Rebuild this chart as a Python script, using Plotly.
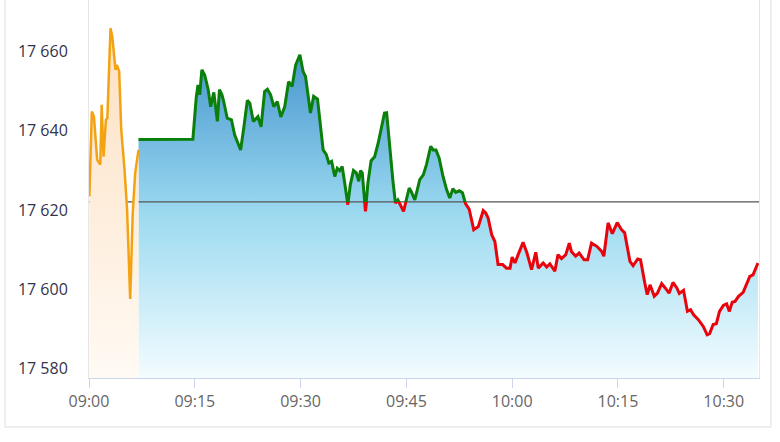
import plotly.graph_objects as go

# minutes after 09:00 and index level
pre_t = [0.05, 0.4, 0.7, 1.16, 1.6, 1.8, 2.06, 2.4, 2.6, 3.05, 3.3, 3.76, 3.95,
         4.28, 4.57, 5.04, 5.4, 5.84, 6.2, 6.55, 7.02]
pre_v = [17623.5, 17644.9, 17643.6, 17632.7, 17631.5, 17646.6, 17633.5, 17642.8,
         17643.2, 17665.9, 17663.8, 17655.4, 17656.6, 17655.0, 17640.3, 17630.2,
         17620.1, 17597.6, 17619.3, 17629.4, 17635.2]

main_t = [7.02, 14.73, 15.2, 15.45, 15.7, 16.0, 16.4, 16.9, 17.25, 17.7, 18.2, 18.5,
          18.85, 19.1, 19.6, 20.2, 20.65, 21.1, 21.5, 21.97, 22.45, 22.8, 23.3, 23.95,
          24.4, 24.9, 25.3, 25.75, 26.2, 26.7, 27.2, 27.75, 28.3, 28.8, 29.3, 29.9,
          30.35, 30.7, 31.4, 31.85, 32.4, 33.2, 33.65, 34.0, 34.4, 34.85, 35.2, 35.55,
          35.9, 36.25, 36.7, 37.05, 37.5, 37.9, 38.25, 38.5, 38.75, 39.2, 39.55, 40.0,
          40.5, 41.0, 41.45, 41.9, 42.2, 42.65, 43.1, 43.45, 43.8, 44.15, 44.6, 45.4,
          45.7, 46.2, 46.9, 47.4, 47.85, 48.45, 48.8, 49.2, 49.65, 50.2, 50.7, 51.15,
          51.6, 52.0, 52.5, 52.95, 53.4, 53.9, 54.55, 55.2, 55.9, 56.25, 56.6, 57.1,
          57.55, 58.0, 58.65, 59.2, 59.7, 60.0, 60.4, 60.85, 61.55, 62.1, 62.75, 63.35,
          63.7, 64.4, 64.9, 65.35, 66.05, 66.5, 67.0, 67.6, 68.1, 68.4, 69.0, 69.5,
          70.2, 70.7, 71.25, 72.0, 72.7, 73.0, 73.6, 74.2, 74.9, 75.5, 75.95, 76.7,
          77.15, 77.8, 78.2, 78.8, 79.15, 79.55, 80.15, 80.6, 81.2, 81.7, 82.25, 82.8,
          83.35, 83.7, 84.3, 84.85, 85.3, 85.7, 86.4, 87.1, 87.65, 88.0, 88.5, 88.95,
          89.4, 89.95, 90.4, 90.8, 91.2, 91.6, 92.1, 92.75, 93.2, 93.7, 94.15, 94.85]
main_v = [17637.8, 17637.9, 17648.3, 17651.6, 17649.1, 17655.4, 17654.1, 17650.4,
          17646.1, 17649.7, 17642.4, 17650.4, 17649.1, 17647.4, 17643.2, 17642.8,
          17639.0, 17636.9, 17635.2, 17641.1, 17647.7, 17647.0, 17642.4, 17643.6,
          17641.0, 17649.9, 17650.5, 17649.1, 17646.1, 17647.4, 17643.5, 17646.1,
          17652.4, 17651.2, 17656.6, 17659.2, 17655.0, 17653.7, 17644.5, 17648.7,
          17648.0, 17635.2, 17634.0, 17631.9, 17632.3, 17628.5, 17630.6, 17630.0,
          17631.0, 17626.9, 17621.4, 17626.4, 17630.0, 17629.4, 17627.3, 17630.0,
          17629.4, 17619.7, 17626.9, 17632.5, 17633.5, 17636.9, 17640.7, 17644.5,
          17644.6, 17635.2, 17627.3, 17621.8, 17622.6, 17621.4, 17619.7, 17625.6,
          17624.7, 17622.6, 17627.7, 17628.9, 17631.5, 17636.1, 17635.2, 17635.2,
          17633.1, 17628.5, 17625.2, 17623.1, 17625.4, 17624.5, 17624.9, 17624.4,
          17621.6, 17620.3, 17615.1, 17615.9, 17619.9, 17619.3, 17618.0, 17613.8,
          17612.1, 17606.3, 17606.3, 17605.4, 17605.4, 17608.2, 17606.7, 17608.8,
          17611.9, 17609.2, 17605.0, 17609.4, 17605.4, 17606.7, 17605.7, 17606.5,
          17604.6, 17608.8, 17607.8, 17608.8, 17611.7, 17609.6, 17608.4, 17609.2,
          17607.5, 17607.5, 17611.7, 17610.9, 17609.6, 17608.4, 17616.8, 17614.1,
          17616.9, 17615.1, 17614.3, 17607.1, 17606.0, 17607.7, 17607.5, 17601.7,
          17598.7, 17601.2, 17598.3, 17599.1, 17601.5, 17600.4, 17599.1, 17601.8,
          17600.4, 17599.0, 17599.8, 17594.5, 17594.9, 17593.7, 17592.4, 17590.7,
          17588.6, 17588.9, 17591.2, 17591.4, 17594.5, 17596.0, 17596.4, 17594.5,
          17596.8, 17597.0, 17598.3, 17599.3, 17601.2, 17603.3, 17603.7, 17606.7]

prev_close = 17622.1

tick_vals = [0, 15, 30, 45, 60, 75, 90]
tick_text = ["09:00", "09:15", "09:30", "09:45", "10:00", "10:15", "10:30"]
y_ticks = [17580, 17600, 17620, 17640, 17660]

x_range = [0, 95.0]
y_lo, y_hi = 17577.7, 17673.0
split = (prev_close - y_lo) / (y_hi - y_lo)

fig = go.Figure()

# session area (fill only)
fig.add_trace(go.Scatter(
    x=main_t, y=main_v, mode="lines", line=dict(width=0),
    fill="tozeroy",
    fillgradient=dict(type="vertical", start=y_lo, stop=17660,
                      colorscale=[[0, "#f3fcff"], [0.5, "#9cdaf0"], [1, "#4796cf"]]),
    hoverinfo="skip"))

# previous close line
fig.add_trace(go.Scatter(
    x=x_range, y=[prev_close, prev_close], mode="lines",
    line=dict(color="#555555", width=1.3), hoverinfo="skip"))

# pre-open auction
fig.add_trace(go.Scatter(
    x=pre_t, y=pre_v, mode="lines", line=dict(color="#f3a312", width=2.5),
    fill="tozeroy",
    fillgradient=dict(type="vertical", start=y_lo, stop=17666,
                      colorscale=[[0, "#fffaf4"], [1, "#fde0c2"]]),
    hoverinfo="skip"))

# green above / red below, clipped by two stacked hidden axes
fig.add_trace(go.Scatter(x=main_t, y=main_v, mode="lines", yaxis="y2",
                         line=dict(color="#0a7f0a", width=3), hoverinfo="skip"))
fig.add_trace(go.Scatter(x=main_t, y=main_v, mode="lines", yaxis="y3",
                         line=dict(color="#e8040c", width=3), hoverinfo="skip"))

fig.update_layout(
    width=780, height=442,
    margin=dict(l=89, r=21, t=0, b=64),
    paper_bgcolor="white", plot_bgcolor="rgba(0,0,0,0)",
    showlegend=False,
    font=dict(family="Open Sans", size=16),
    xaxis=dict(range=x_range, anchor="y", tickvals=tick_vals, ticktext=tick_text,
               showgrid=False, zeroline=False, showline=True, linecolor="#ccd6eb",
               ticks="outside", ticklen=9, tickcolor="#ccd6eb",
               tickfont=dict(color="#666666", size=16)),
    yaxis=dict(range=[y_lo, y_hi], tickvals=y_ticks, showgrid=False, zeroline=False,
               showline=True, linecolor="#e6e6e6", mirror=True,
               ticks="outside", ticklen=17, tickcolor="rgba(0,0,0,0)",
               tickformat=",d", tickfont=dict(color="#33334a", size=16)),
    yaxis2=dict(domain=[split, 1], range=[prev_close, y_hi], anchor="x", visible=False),
    yaxis3=dict(domain=[0, split], range=[y_lo, prev_close], anchor="x", visible=False),
    separators=". ",
    shapes=[dict(type="rect", xref="paper", yref="paper",
                 x0=-0.1254, x1=1.0179, y0=-0.1296, y1=1.05,
                 line=dict(color="#dddddd", width=1), layer="below")],
)

# page body has an 8px default margin; drop it so the figure sits at 0,0
fig.write_html("out.html", config={"displayModeBar": False},
               post_script="document.body.style.margin='0';")
